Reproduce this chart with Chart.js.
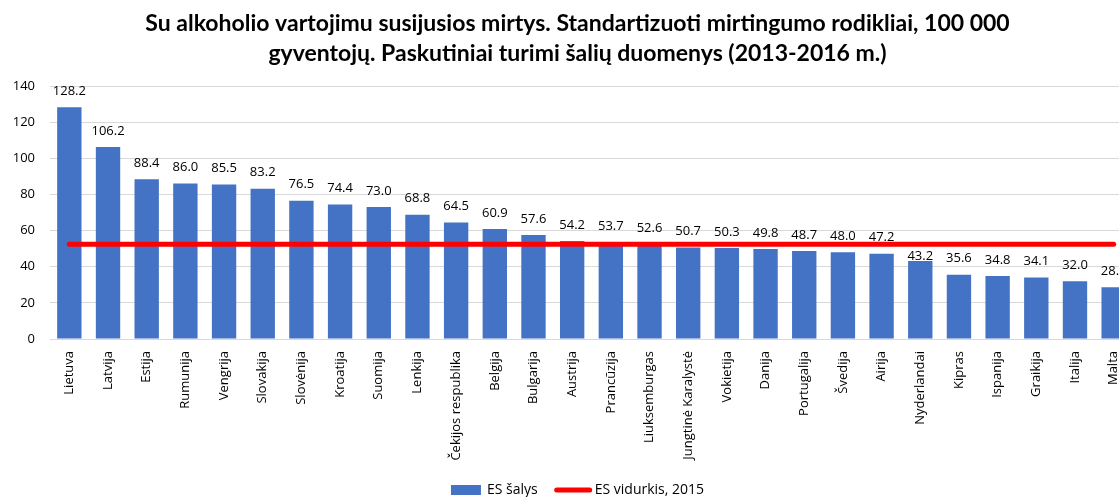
<!DOCTYPE html>
<html><head><meta charset="utf-8">
<script src="https://cdn.jsdelivr.net/npm/chart.js@4.4.1/dist/chart.umd.min.js"></script>
<style>html,body{margin:0;padding:0;overflow:hidden;background:#fff;width:1119px;height:497px}canvas{display:block}</style>
</head><body>
<canvas id="c" width="1155" height="497"></canvas>
<script>
const categories = ["Lietuva","Latvija","Estija","Rumunija","Vengrija","Slovakija","Slovėnija","Kroatija","Suomija","Lenkija","Čekijos respublika","Belgija","Bulgarija","Austrija","Prancūzija","Liuksemburgas","Jungtinė Karalystė","Vokietija","Danija","Portugalija","Švedija","Airija","Nyderlandai","Kipras","Ispanija","Graikija","Italija","Malta"];
const countryValues = [128.2,106.2,88.4,86.0,85.5,83.2,76.5,74.4,73.0,68.8,64.5,60.9,57.6,54.2,53.7,52.6,50.7,50.3,49.8,48.7,48.0,47.2,43.2,35.6,34.8,34.1,32.0,28.7];
const euAverage2015 = [52.5,52.5,52.5,52.5,52.5,52.5,52.5,52.5,52.5,52.5,52.5,52.5,52.5,52.5,52.5,52.5,52.5,52.5,52.5,52.5,52.5,52.5,52.5,52.5,52.5,52.5,52.5,52.5];
const yTicks = [0,20,40,60,80,100,120,140];
const titleLines = ["Su alkoholio vartojimu susijusios mirtys. Standartizuoti mirtingumo rodikliai, 100 000","gyventojų. Paskutiniai turimi šalių duomenys (2013-2016 m.)"];
const legendLabels = ["ES šalys","ES vidurkis, 2015"];

const BLUE = '#4472C4', RED = '#FF0000';
const FONT = "'Open Sans', sans-serif";
// label nudged down in the original (avoids the average line)
const labelGapOverride = { "Nyderlandai": 5 };

const valueLabels = {
  id: 'valueLabels',
  afterDatasetsDraw(chart) {
    const ctx = chart.ctx;
    const meta = chart.getDatasetMeta(1);
    ctx.save();
    ctx.font = "13px " + FONT;
    ctx.fillStyle = '#000';
    ctx.textAlign = 'center';
    ctx.textBaseline = 'middle';
    meta.data.forEach((el, i) => {
      const gap = labelGapOverride[categories[i]] ?? 16;
      ctx.fillText(countryValues[i].toFixed(1), el.x, el.y - gap);
    });
    ctx.restore();
  }
};
const customLegend = {
  id: 'customLegend',
  afterDraw(chart) {
    const ctx = chart.ctx;
    ctx.save();
    ctx.font = "14px " + FONT;
    ctx.textBaseline = 'middle';
    ctx.fillStyle = '#000';
    const y = 490;
    const w1 = ctx.measureText(legendLabels[0]).width;
    const w2 = ctx.measureText(legendLabels[1]).width;
    const total = 30 + 6 + w1 + 17 + 37 + 3 + w2;
    let x = chart.width / 2 - total / 2;
    ctx.fillStyle = BLUE;
    ctx.fillRect(x, y - 5, 30, 10);
    x += 36;
    ctx.fillStyle = '#000';
    ctx.fillText(legendLabels[0], x, y);
    x += w1 + 17;
    ctx.strokeStyle = RED; ctx.lineWidth = 5; ctx.lineCap = 'round';
    ctx.beginPath(); ctx.moveTo(x + 2, y); ctx.lineTo(x + 35, y); ctx.stroke();
    x += 37 + 3;
    ctx.fillText(legendLabels[1], x, y);
    ctx.restore();
  }
};

new Chart(document.getElementById('c'), {
  data: {
    labels: categories,
    datasets: [
      { type: 'line', label: legendLabels[1], data: euAverage2015, borderColor: RED, backgroundColor: RED, borderWidth: 5, borderCapStyle: 'round', pointRadius: 0, order: 0 },
      { type: 'bar', label: legendLabels[0], data: countryValues, backgroundColor: BLUE, barPercentage: 0.63, categoryPercentage: 1, order: 1 }
    ]
  },
  options: {
    responsive: false,
    animation: false,
    layout: { padding: 0 },
    plugins: {
      legend: { display: false },
      tooltip: { enabled: false },
      title: { display: true, text: titleLines, color: '#000', font: { family: 'Lato', weight: 'bold', size: 23, lineHeight: 1.305 }, padding: { top: 9, bottom: 17 } }
    },
    scales: {
      x: {
        grid: { display: false },
        border: { display: true, color: '#d9d9d9' },
        ticks: { color: '#000', font: { family: 'Open Sans', size: 13 }, maxRotation: 90, minRotation: 90, autoSkip: false, padding: 4 },
        afterFit(axis) { axis.height = 158; }
      },
      y: {
        min: 0, max: 140,
        afterBuildTicks(axis) { axis.ticks = yTicks.map(v => ({ value: v })); },
        grid: { color: '#d9d9d9', drawTicks: false },
        border: { display: false },
        ticks: { color: '#000', font: { family: 'Open Sans', size: 13 }, padding: 15 },
        afterFit(axis) { axis.width = 50; }
      },
      yRight: {
        position: 'right',
        min: 0, max: 140,
        display: true,
        grid: { display: false, drawTicks: false },
        border: { display: false },
        ticks: { display: false },
        afterFit(axis) { axis.width = 22; }
      }
    }
  },
  plugins: [valueLabels, customLegend]
});
</script>
</body></html>
